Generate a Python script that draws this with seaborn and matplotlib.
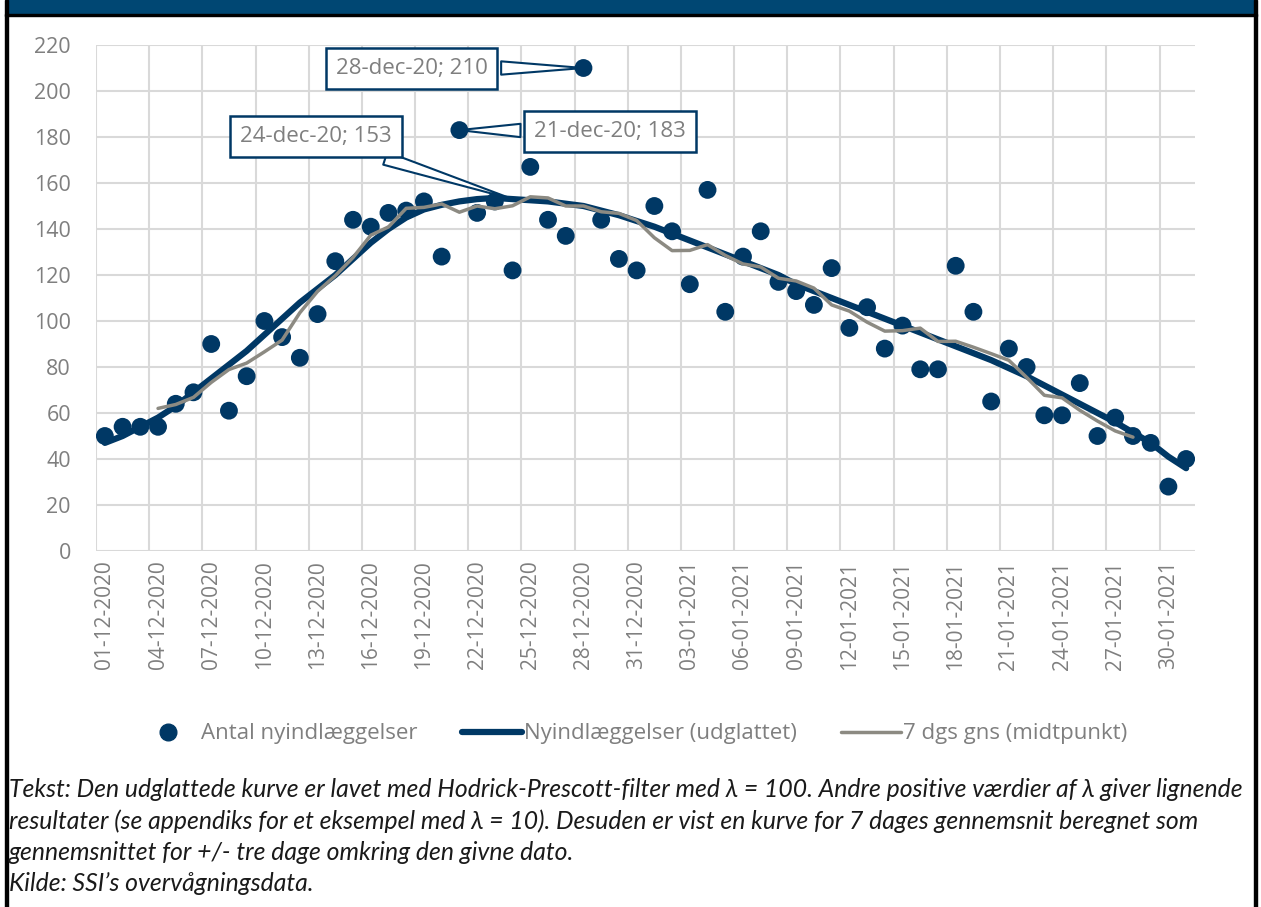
import numpy as np
import pandas as pd
import seaborn as sns
import matplotlib.pyplot as plt
from matplotlib.patches import Rectangle
from matplotlib.lines import Line2D

# daily dates on the category axis
dates = pd.date_range("2020-12-01", "2021-01-31", freq="D")

# new admissions per day
admissions = [50, 54, 54, 54, 64, 69, 90, 61, 76, 100,
              93, 84, 103, 126, 144, 141, 147, 148, 152, 128,
              183, 147, 152, 122, 167, 144, 137, 210, 144, 127,
              122, 150, 139, 116, 157, 104, 128, 139, 117, 113,
              107, 123, 97, 106, 88, 98, 79, 79, 124, 104,
              65, 88, 80, 59, 59, 73, 50, 58, 50, 47,
              28, 40]

# HP-filtered curve
smoothed = [47, 50, 54, 58, 63, 69, 75, 81, 87, 94,
            101, 108, 114, 120, 127, 134, 140, 145, 148.5, 150.5,
            152, 153, 153.5, 153, 152.5, 152, 151, 150, 148, 146,
            143.5, 141, 138, 135, 132, 129, 126, 123, 120, 116,
            113, 110, 107, 104, 101, 98, 95, 92, 89, 86,
            83, 79.5, 76, 72, 68, 64, 60, 56, 51.5, 47,
            41, 36]

# 7 day centred average
avg7 = [np.nan, np.nan, np.nan, 62.0, 63.7, 66.8, 73.3, 78.9, 81.7, 86.6,
        91.7, 103.6, 112.9, 119.7, 127.6, 137.3, 140.9, 149.0, 149.4, 150.9,
        147.3, 150.0, 148.8, 150.1, 154.0, 153.5, 150.0, 150.0, 147.5, 146.8,
        143.7, 136.2, 130.6, 130.7, 133.2, 128.5, 124.8, 123.5, 118.6, 117.4,
        114.3, 107.0, 104.3, 99.5, 95.6, 95.8, 96.9, 91.1, 91.2, 88.6,
        85.8, 82.9, 75.5, 67.7, 66.6, 61.2, 56.5, 52.2, 49.5, np.nan,
        np.nan, np.nan]

df = pd.DataFrame({"day": np.arange(len(dates)), "antal": admissions,
                   "hp": smoothed, "gns": avg7})

navy = "#003865"
grey = "#8c8a82"
txt = "#7f7f7f"
grid = "#d9d9d9"

sns.set_style("white")
plt.rcParams["font.family"] = ["Open Sans", "DejaVu Sans"]

fig = plt.figure(figsize=(12.61, 9.07), dpi=100)
W, H = 1261, 907
ax = fig.add_axes([96 / W, 1 - 551 / H, (1195 - 96) / W, (551 - 45) / H])

sns.scatterplot(data=df, x="day", y="antal", ax=ax, s=165, color=navy,
                edgecolor="none", zorder=3)
sns.lineplot(data=df, x="day", y="hp", ax=ax, color=navy, lw=4.5, zorder=4)
sns.lineplot(data=df, x="day", y="gns", ax=ax, color=grey, lw=2.5, zorder=5)

ax.set_xlim(-0.5, 61.5)
ax.set_ylim(0, 220)
ax.set_yticks(range(0, 221, 20))
ax.set_xticks(df["day"][::3])
ax.set_xticklabels([d.strftime("%d-%m-%Y") for d in dates[::3]], rotation=90)
ax.set_xticks(np.arange(-0.5, 60, 3), minor=True)
ax.tick_params(axis="both", which="major", length=0, labelsize=15,
               labelcolor=txt)
ax.tick_params(axis="y", which="major", pad=18, labelsize=15.5)
ax.tick_params(axis="x", which="minor", length=8, width=1.5, color=grid)
ax.tick_params(axis="x", which="major", pad=7)
ax.grid(False)
ax.grid(True, axis="y", color=grid, lw=1.5)
ax.grid(True, axis="x", which="minor", color=grid, lw=1.5)
ax.set_xlabel("")
ax.set_ylabel("")
for s in ax.spines.values():
    s.set_visible(False)

# callouts
box = dict(boxstyle="square,pad=0.45", fc="white", ec=navy, lw=1.8)
wedge = dict(arrowstyle="wedge,tail_width=0.6,shrink_factor=0.5",
             fc="white", ec=navy, lw=1.5, shrinkB=0)
ax.annotate("28-dec-20; 210", xy=(27, 210), xytext=(17.3, 210), fontsize=16,
            color=txt, ha="center", va="center", bbox=box, arrowprops=wedge,
            zorder=6)
ax.annotate("21-dec-20; 183", xy=(20, 183), xytext=(28.5, 182.6), fontsize=16,
            color=txt, ha="center", va="center", bbox=box, arrowprops=wedge,
            zorder=6)
ax.annotate("24-dec-20; 153", xy=(23, 153), xytext=(11.9, 180.4), fontsize=16,
            color=txt, ha="center", va="center", bbox=box, arrowprops=wedge,
            zorder=6)

# legend
handles = [Line2D([], [], ls="none", marker="o", ms=12, color=navy),
           Line2D([], [], color=navy, lw=4.5),
           Line2D([], [], color=grey, lw=2.5)]
labels = ["Antal nyindlæggelser", "Nyindlæggelser (udglattet)",
          "7 dgs gns (midtpunkt)"]
fig.legend(handles, labels, loc="center", bbox_to_anchor=(633 / W, 1 - 734 / H),
           ncol=3, frameon=False, fontsize=16, labelcolor=txt,
           handlelength=2.7, handletextpad=0.1, columnspacing=2.0)

# frame and header band
fig.patches.append(Rectangle((7 / W, 1 - 14 / H), 1247 / W, 14 / H,
                             transform=fig.transFigure, color="#004773"))
fig.patches.append(Rectangle((5 / W, 1 - 16 / H), 1252 / W, 2.5 / H,
                             transform=fig.transFigure, color="black"))
fig.patches.append(Rectangle((5 / W, 0), 3 / W, 1, transform=fig.transFigure,
                             color="black"))
fig.patches.append(Rectangle((1254 / W, 0), 3 / W, 1, transform=fig.transFigure,
                             color="black"))

note = ("Tekst: Den udglattede kurve er lavet med Hodrick-Prescott-filter med λ = 100. "
        "Andre positive værdier af λ giver lignende\n"
        "resultater (se appendiks for et eksempel med λ = 10). Desuden er vist en kurve "
        "for 7 dages gennemsnit beregnet som\n"
        "gennemsnittet for +/- tre dage omkring den givne dato.\n"
        "Kilde: SSI’s overvågningsdata.")
fig.text(9 / W, 1 - 778 / H, note, ha="left", va="top", fontsize=17.8,
         style="italic", family=["Lato", "DejaVu Sans"], color="#1a1a1a",
         linespacing=1.42)

fig.savefig("out.png", dpi=100)
